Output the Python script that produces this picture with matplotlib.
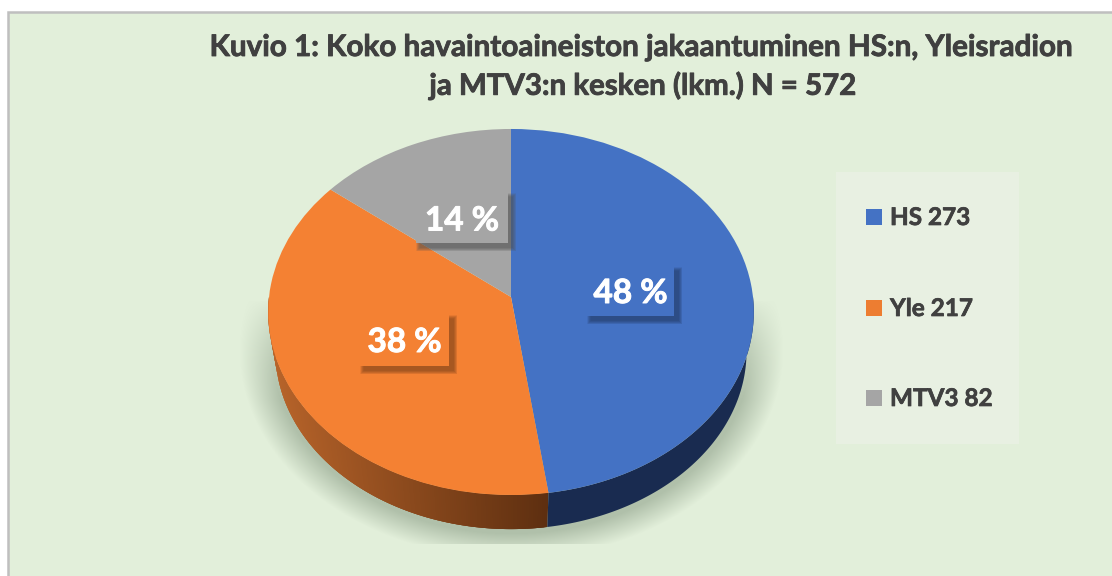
import numpy as np
import matplotlib
matplotlib.use("Agg")
import matplotlib.pyplot as plt
import matplotlib.patheffects as pe
from matplotlib.patches import Rectangle
from matplotlib.transforms import Transform

categories = ["HS", "Yle", "MTV3"]
values = [273, 217, 82]
title_lines = ["Kuvio 1: Koko havaintoaineiston jakaantuminen HS:n, Yleisradion",
               "ja MTV3:n kesken (lkm.) N = 572"]

TOP = ["#4472C4", "#F48133", "#A5A5A5"]
LEG = ["#4472C4", "#ED7D31", "#A5A5A5"]
BG = "#E2EFDA"
TXT = "#404040"
CX, CY, A, B, K = 511, 297, 242, 181.8, 0.082
plt.rcParams["font.family"] = ["Lato", "DejaVu Sans"]


def heavy(color, w=0.5):
    return [pe.withStroke(linewidth=w, foreground=color)]


class Tilt(Transform):
    """Perspective view of the flat pie disc (pixel offsets, y down)."""
    input_dims = output_dims = 2
    is_affine = False

    def transform_non_affine(self, v):
        v = np.asarray(v, float)
        d = 1 + K * v[:, 1]
        return np.column_stack([CX + A * v[:, 0] / d, CY - B * v[:, 1] / d])


fig = plt.figure(figsize=(11.12, 5.76), dpi=100, facecolor="white")
ax = fig.add_axes([0, 0, 1, 1])

# soft shadow under the pie
yy, xx = np.mgrid[0:576, 0:1112]
r = np.hypot((xx - 511) / 272.0, (yy - 350) / 208.0)
al = np.clip((1 - r) / 0.12, 0, 1)
al *= np.clip((yy - 300) / 100.0, 0, 1) ** 0.6
al[yy > 543] = 0
rgba = np.zeros((576, 1112, 4))
rgba[..., :3] = matplotlib.colors.to_rgb("#B0C0AA")
rgba[..., 3] = al

tilt = Tilt()
wedges, _ = ax.pie(values, colors=TOP, startangle=90, counterclock=False, radius=1,
                   wedgeprops=dict(linewidth=0))
for w in wedges:
    w.set_transform(tilt + ax.transData)
    w.set_zorder(5)

ax.set_aspect("auto")
ax.axis("off")

# chart area (runs off the right and bottom of the picture)
ax.add_patch(Rectangle((8, 12), 1200, 700, fc=BG, ec="#BFBFBF", lw=1.8, zorder=0))
ax.imshow(rgba, extent=(0, 1112, 576, 0), aspect="auto", zorder=1, interpolation="bilinear")
ax.set_xlim(0, 1112)
ax.set_ylim(576, 0)


def mix(a, b, t):
    a, b = np.array(matplotlib.colors.to_rgb(a)), np.array(matplotlib.colors.to_rgb(b))
    return a + (b - a) * t


# side wall, split where the slices' angular extents end
fracs = np.array(values) / sum(values)
edges = np.cumsum(np.r_[0, fracs]) * 360
SCALE, DROP = 0.97, 40
deg = np.union1d(np.arange(90, 270.01, 0.5), [edges[1]])
th = np.radians(deg)
px, py = np.sin(th), np.cos(th)
den = 1 + K * py
up_x, up_y = CX + A * px / den, CY - B * py / den
lo_x, lo_y = CX + A * px / den * SCALE, CY - B * py / den * SCALE + DROP


def wall_piece(i0, i1, color):
    ax.fill(np.r_[up_x[i0:i1 + 1], lo_x[i0:i1 + 1][::-1]],
            np.r_[up_y[i0:i1 + 1], lo_y[i0:i1 + 1][::-1]],
            color=color, lw=0, zorder=3)


split = int(np.searchsorted(deg, edges[1]))
for i in range(split, len(deg) - 1):
    c = mix("#B8642A", "#5E2F10", np.clip((up_x[i] - 270) / 278.0, 0, 1))
    wall_piece(i, min(i + 3, len(deg) - 1), c)
wall_piece(0, split, "#192B50")

# data labels
pct = [f"{round(100 * v / sum(values))} %" for v in values]
boxes = [(587, 267, 87, 49), (360, 315, 89, 51), (416, 193, 92, 50)]
shift = [2, 2, 3]
for (x, y, w, h), lab, c, s in zip(boxes, pct, TOP, shift):
    sc = mix(c, "#000000", 0.5)
    for g in range(8, 0, -1):
        ax.add_patch(Rectangle((x + 4 - g * .5, y + 4 - g * .5), w + g, h + g,
                               fc=sc, ec="none", alpha=0.11, zorder=6))
    ax.add_patch(Rectangle((x, y), w, h, fc=c, ec="none", zorder=7))
    ax.text(x + w / 2, y + h / 2 + s, lab, color="white", fontsize=24, fontweight="bold",
            ha="center", va="center", zorder=8, path_effects=heavy("white", 0.7))

# legend
ax.add_patch(Rectangle((836, 172), 183, 272, fc="#E8F0E2", ec="none", zorder=1))
leg_y = [217, 308, 398]
for cat, v, c, y in zip(categories, values, LEG, leg_y):
    ax.add_patch(Rectangle((866, y - 8), 16, 16, fc=c, ec="none", zorder=2))
    ax.text(890, y + 0.5, f"{cat} {v}", color=TXT, fontsize=17.5, fontweight="bold",
            va="center", ha="left", zorder=2, path_effects=heavy(TXT, 0.5))

# title
ax.text(640, 47, title_lines[0], color=TXT, fontsize=21.35, fontweight="bold", ha="center", va="center",
        zorder=2, path_effects=heavy(TXT, 0.6))
ax.text(642, 86, title_lines[1], color=TXT, fontsize=21.2, fontweight="bold", ha="center", va="center",
        zorder=2, path_effects=heavy(TXT, 0.6))

fig.savefig("out.png", dpi=100, facecolor="white")
